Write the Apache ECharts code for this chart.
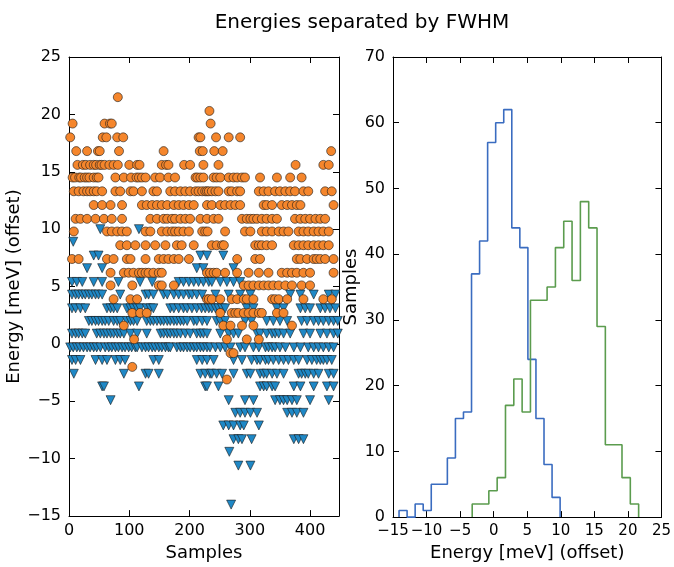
<!DOCTYPE html>
<html>
<head>
<meta charset="utf-8">
<script src="https://cdn.jsdelivr.net/npm/echarts@6/dist/echarts.min.js"></script>
<style>html,body{margin:0;padding:0;background:#fff;}#c{width:674px;height:567px;}</style>
</head>
<body>
<div id="c"></div>
<script>
// ---- Left panel: scatter (sample index lists per energy level) ----
const orangeLevels = [21.5, 20.3, 19.2, 18.0, 16.8, 15.6, 14.5, 13.3, 12.1, 10.9, 9.8, 8.6, 7.4, 6.2, 5.1, 3.9, 2.7, 1.6, 0.4, -0.8, -2.0, -3.1];
const orangeSamples = [
  [81],
  [233],
  [6, 59, 68, 71, 235],
  [2, 56, 62, 80, 90, 215, 218, 244, 265, 284],
  [12, 30, 48, 51, 83, 157, 217, 222, 241, 255, 435],
  [14, 23, 28, 35, 41, 45, 51, 54, 59, 67, 74, 81, 100, 113, 117, 154, 161, 165, 191, 201, 223, 248, 376, 422, 431],
  [6, 10, 17, 20, 26, 30, 34, 41, 46, 49, 77, 91, 103, 112, 116, 121, 127, 143, 151, 165, 176, 210, 213, 218, 223, 240, 245, 251, 265, 273, 279, 287, 292, 317, 345, 367, 386],
  [8, 16, 24, 30, 35, 41, 46, 55, 77, 85, 102, 107, 121, 140, 146, 168, 176, 185, 193, 201, 210, 215, 221, 226, 229, 232, 237, 243, 248, 265, 270, 279, 284, 315, 323, 331, 342, 350, 359, 367, 375, 389, 397, 425, 436],
  [41, 55, 69, 88, 121, 129, 138, 146, 154, 163, 174, 182, 190, 199, 207, 229, 237, 251, 259, 268, 276, 284, 323, 328, 337, 353, 362, 370, 378, 384, 439],
  [11, 19, 30, 44, 58, 71, 88, 135, 146, 157, 163, 171, 176, 185, 193, 201, 218, 229, 240, 248, 287, 295, 301, 306, 312, 320, 328, 337, 345, 375, 384, 392, 400, 409, 417, 425],
  [8, 63, 71, 80, 88, 96, 127, 135, 154, 163, 171, 176, 182, 190, 199, 221, 226, 230, 259, 292, 301, 320, 328, 337, 348, 356, 364, 381, 389, 397, 406, 414, 422, 431],
  [85, 96, 110, 127, 143, 160, 179, 187, 207, 237, 245, 254, 257, 309, 315, 320, 328, 337, 373, 381, 389, 397, 406, 414, 422, 431],
  [5, 16, 63, 74, 96, 102, 127, 149, 157, 165, 174, 182, 199, 279, 309, 317, 378, 384, 395, 406, 411, 417, 425, 439],
  [69, 91, 99, 107, 116, 121, 127, 132, 140, 149, 154, 229, 234, 240, 245, 259, 279, 298, 315, 331, 353, 362, 370, 378, 389, 400, 439],
  [69, 105, 149, 154, 174, 290, 298, 306, 315, 323, 331, 339, 348, 359, 370, 386, 400],
  [74, 102, 113, 229, 232, 237, 251, 270, 279, 290, 295, 306, 337, 342, 348, 362, 389, 422, 436],
  [105, 118, 129, 251, 270, 276, 281, 290, 298, 306, 315, 320, 345, 356],
  [91, 256, 268, 287, 306, 370],
  [108, 262, 295, 315],
  [268, 273],
  [105],
  [262]
];
const blueLevels = [10.0, 8.9, 7.7, 6.6, 5.4, 4.3, 3.1, 2.0, 0.9, -0.3, -1.4, -2.6, -3.7, -4.9, -6.0, -7.1, -8.3, -9.4, -10.6, -14.0];
const blueSamples = [
  [52, 116],
  [7],
  [41, 49, 218, 229, 256],
  [30, 55, 212, 223, 273],
  [5, 13, 22, 41, 55, 82, 118, 138, 182, 190, 199, 207, 215, 223, 232, 237, 251, 262, 273, 284],
  [5, 11, 16, 22, 27, 33, 38, 44, 49, 55, 85, 127, 132, 140, 157, 163, 174, 182, 190, 199, 204, 212, 221, 243, 265, 284, 301, 367, 384, 406, 431, 442],
  [5, 11, 19, 27, 63, 69, 74, 80, 96, 102, 107, 113, 118, 129, 135, 140, 168, 174, 182, 190, 196, 204, 212, 220, 226, 232, 237, 243, 248, 254, 259, 295, 306, 345, 356, 384, 392, 400, 417, 425, 433, 442],
  [33, 38, 44, 49, 55, 60, 66, 74, 80, 85, 96, 102, 107, 113, 129, 135, 140, 146, 152, 157, 163, 168, 174, 179, 185, 190, 196, 207, 212, 221, 229, 245, 251, 259, 292, 303, 328, 339, 350, 362, 386, 395, 406, 414, 422, 431, 439, 446],
  [5, 11, 16, 22, 27, 46, 52, 58, 63, 69, 74, 80, 85, 91, 102, 113, 129, 152, 157, 163, 168, 174, 179, 185, 193, 201, 212, 218, 223, 229, 251, 265, 273, 281, 312, 317, 328, 337, 342, 348, 356, 367, 389, 400, 417, 428, 439, 446],
  [2, 7, 13, 18, 24, 30, 35, 41, 46, 52, 60, 66, 71, 77, 82, 88, 93, 99, 104, 110, 113, 121, 127, 132, 138, 143, 149, 154, 160, 165, 168, 179, 185, 190, 196, 201, 207, 212, 218, 223, 229, 234, 243, 251, 259, 268, 284, 292, 306, 315, 326, 331, 337, 342, 350, 359, 373, 384, 397, 406, 414, 422, 431, 439],
  [5, 11, 19, 44, 55, 63, 77, 85, 93, 140, 149, 212, 221, 229, 240, 273, 287, 303, 312, 317, 326, 331, 339, 348, 356, 364, 373, 381, 395, 403, 411, 417, 422, 428, 436],
  [8, 91, 127, 132, 149, 218, 226, 234, 237, 245, 254, 273, 295, 301, 317, 323, 328, 337, 345, 356, 381, 386, 392, 397, 406, 414, 431, 439],
  [55, 58, 116, 226, 229, 248, 317, 323, 328, 337, 342, 373, 384, 406, 428, 439],
  [69, 265, 292, 306, 342, 350, 356, 362, 370, 378, 400, 431],
  [276, 284, 292, 301, 312, 362, 370, 378, 389],
  [256, 265, 273, 284, 290, 315],
  [273, 281, 287, 303, 373, 381, 389],
  [266],
  [281, 301],
  [269]
];

// ---- Right panel: histograms (bin edges and counts) ----
const blueEdges = [-14.1, -12.9, -11.7, -10.5, -9.3, -8.1, -6.9, -5.7, -4.5, -3.3, -2.1, -0.9, 0.3, 1.5, 2.7, 3.9, 5.1, 6.3, 7.5, 8.7, 9.9];
const blueCounts = [1, 0, 2, 1, 5, 5, 9, 15, 16, 37, 42, 57, 60, 62, 44, 41, 24, 15, 8, 3];
const greenEdges = [-3.2, -1.96, -0.72, 0.52, 1.76, 3.0, 4.24, 5.48, 6.72, 7.96, 9.2, 10.44, 11.68, 12.92, 14.16, 15.4, 16.64, 17.88, 19.12, 20.36, 21.6];
const greenCounts = [2, 2, 4, 6, 17, 21, 16, 33, 33, 35, 41, 45, 36, 48, 44, 29, 11, 11, 6, 2];

// ticks
const leftXTicks = [0, 100, 200, 300, 400];
const leftYTicks = [-15, -10, -5, 0, 5, 10, 15, 20, 25];
const rightXTicks = [-15, -10, -5, 0, 5, 10, 15, 20, 25];
const rightYTicks = [0, 10, 20, 30, 40, 50, 60, 70];

function scatterPoints(levels, lists) {
  const out = [];
  levels.forEach((v, i) => lists[i].forEach(s => out.push([s, v])));
  return out;
}
function stepPoints(edges, counts) {
  const out = [[edges[0], 0]];
  counts.forEach((c, i) => { out.push([edges[i], c]); out.push([edges[i + 1], c]); });
  out.push([edges[edges.length - 1], 0]);
  return out;
}

const FONT = 'DejaVu Sans';
const fmt = v => String(v).replace('-', '\u2212');
function lbl(extra) {
  return Object.assign({ show: true, color: '#000', fontSize: 16, fontFamily: FONT, formatter: fmt, hideOverlap: false }, extra || {});
}
function axis(o) {
  const base = {
    type: 'value',
    axisLine: { show: true, onZero: false, lineStyle: { color: '#000', width: 1 } },
    axisTick: { show: true, inside: true, length: 6, lineStyle: { color: '#000', width: 1 } },
    splitLine: { show: false },
    axisLabel: lbl(),
    nameTextStyle: { color: '#000', fontSize: 18, fontFamily: FONT },
    nameLocation: 'middle'
  };
  return Object.assign(base, o);
}
const noLabel = { show: false };

const chart = echarts.init(document.getElementById('c'), null, { renderer: 'canvas' });
chart.setOption({
  animation: false,
  backgroundColor: '#fff',
  title: {
    text: 'Energies separated by FWHM',
    left: 357, top: 8, textAlign: 'center',
    textStyle: { fontFamily: FONT, fontSize: 20, fontWeight: 'normal', color: '#000' }
  },
  grid: [
    { left: 69, top: 57, width: 270, height: 461 },
    { left: 393, top: 57, width: 270, height: 461 }
  ],
  xAxis: [
    axis({ gridIndex: 0, min: leftXTicks[0], max: 448, interval: 100, position: 'bottom', name: 'Samples', nameGap: 25,
      axisLabel: lbl({ showMaxLabel: false, showMinLabel: true, margin: 7 }) }),
    axis({ gridIndex: 0, min: leftXTicks[0], max: 448, interval: 100, position: 'top', axisLabel: noLabel }),
    axis({ gridIndex: 1, min: rightXTicks[0], max: rightXTicks[rightXTicks.length - 1], interval: 5, position: 'bottom', name: 'Energy [meV] (offset)', nameGap: 25,
      axisLabel: lbl({ showMinLabel: true, showMaxLabel: true, margin: 7, fontSize: 15 }) }),
    axis({ gridIndex: 1, min: rightXTicks[0], max: rightXTicks[rightXTicks.length - 1], interval: 5, position: 'top', axisLabel: noLabel })
  ],
  yAxis: [
    axis({ gridIndex: 0, min: leftYTicks[0], max: leftYTicks[leftYTicks.length - 1], interval: 5, position: 'left', name: 'Energy [meV] (offset)', nameGap: 38,
      axisLabel: lbl({ showMinLabel: true, showMaxLabel: true, margin: 8 }) }),
    axis({ gridIndex: 0, min: leftYTicks[0], max: leftYTicks[leftYTicks.length - 1], interval: 5, position: 'right', axisLabel: noLabel }),
    axis({ gridIndex: 1, min: rightYTicks[0], max: rightYTicks[rightYTicks.length - 1], interval: 10, position: 'left', name: 'Samples', nameGap: 29,
      axisLabel: lbl({ showMinLabel: true, showMaxLabel: true, margin: 8 }) }),
    axis({ gridIndex: 1, min: rightYTicks[0], max: rightYTicks[rightYTicks.length - 1], interval: 10, position: 'right', axisLabel: noLabel })
  ],
  series: [
    {
      type: 'scatter', xAxisIndex: 0, yAxisIndex: 0,
      data: scatterPoints(blueLevels, blueSamples),
      symbol: 'triangle', symbolRotate: 180, symbolSize: 9,
      itemStyle: { color: '#1f88c6', borderColor: '#1a1a1a', borderWidth: 0.6, opacity: 1 }
    },
    {
      type: 'scatter', xAxisIndex: 0, yAxisIndex: 0,
      data: scatterPoints(orangeLevels, orangeSamples),
      symbol: 'circle', symbolSize: 9,
      itemStyle: { color: '#f5862c', borderColor: '#1a1a1a', borderWidth: 0.6, opacity: 1 }
    },
    {
      type: 'line', xAxisIndex: 2, yAxisIndex: 2,
      data: stepPoints(blueEdges, blueCounts),
      symbol: 'none', lineStyle: { color: '#3a6cc0', width: 1.6 }
    },
    {
      type: 'line', xAxisIndex: 2, yAxisIndex: 2,
      data: stepPoints(greenEdges, greenCounts),
      symbol: 'none', lineStyle: { color: '#5b9c4e', width: 1.6 }
    }
  ]
});
</script>
</body>
</html>
